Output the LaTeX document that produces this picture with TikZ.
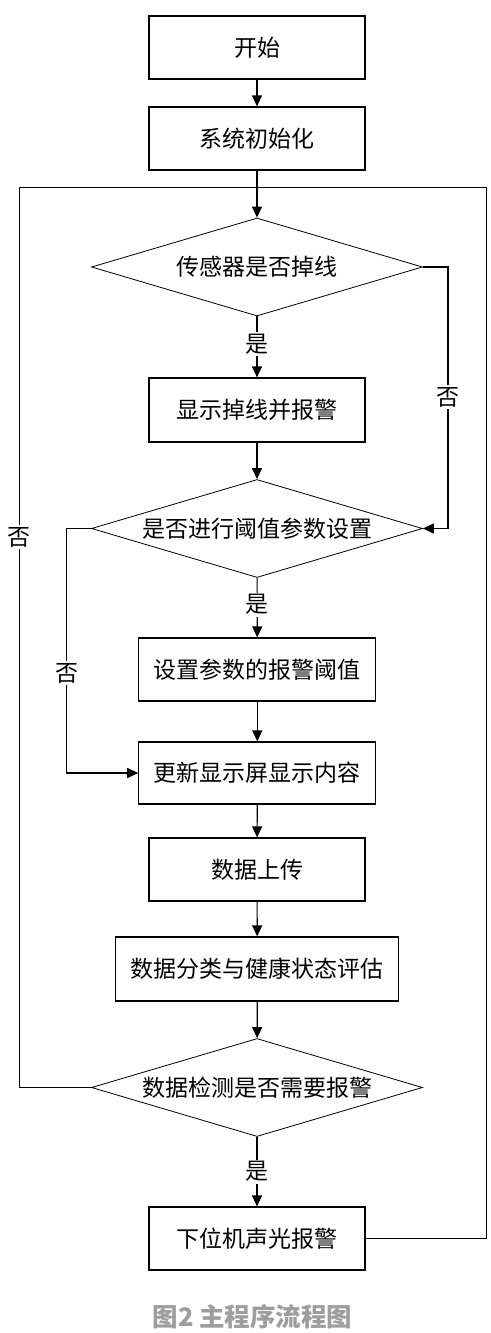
\documentclass[tikz,border=0pt]{standalone}
\usepackage{fontspec}
\newfontfamily\cjk{Noto Sans CJK SC}
\usetikzlibrary{shapes.geometric,arrows.meta}
\begin{document}
\begin{tikzpicture}[x=1pt,y=-1pt,
  txt/.style={font=\cjk\fontsize{23}{26}\selectfont},
  procbox/.style={draw,line width=1.2pt,rectangle,inner sep=0pt,txt},
  decide/.style={draw,line width=0.8pt,diamond,aspect=3.4,inner sep=0pt,minimum width=331pt,minimum height=98pt,txt},
  conn/.style={line width=1.2pt},
  arr/.style={conn,-{Triangle[length=11pt,width=10pt]}},
  lbl/.style={fill=white,inner sep=2pt,txt}]
\useasboundingbox (0,0) rectangle (490,1333);
\node[procbox,minimum width=216pt,minimum height=63pt] (start) at (257,47.5) {开始};
\node[procbox,minimum width=216pt,minimum height=63pt] (init) at (257,138.5) {系统初始化};
\node[decide] (d1) at (257,267) {传感器是否掉线};
\node[procbox,minimum width=216pt,minimum height=64pt] (disp) at (257,410) {显示掉线并报警};
\node[decide] (d2) at (257,528.5) {是否进行阈值参数设置};
\node[procbox,minimum width=237pt,minimum height=63pt] (set) at (257.3,669.5) {设置参数的报警阈值};
\node[procbox,minimum width=237pt,minimum height=62pt] (upd) at (257.3,773) {更新显示屏显示内容};
\node[procbox,minimum width=216pt,minimum height=63pt] (up) at (257,869.5) {数据上传};
\node[procbox,minimum width=283pt,minimum height=64pt] (cls) at (257.3,969) {数据分类与健康状态评估};
\node[decide] (d3) at (257,1087.5) {数据检测是否需要报警};
\node[procbox,minimum width=216pt,minimum height=63pt] (alarm) at (257,1238.5) {下位机声光报警};
\node[font=\cjk\bfseries\fontsize{25.5}{28}\selectfont,text=black!38] (cap) at (252.5,1317) {图2 主程序流程图};
\coordinate (tl) at (19.5,187.5);
\coordinate (tr) at (486.5,187.5);
\coordinate (j) at (257,187.5);
\coordinate (r1) at (448,267);
\coordinate (l2) at (66.5,528.5);
\draw[arr] (start) -- (init);
\draw[arr] (init) -- (d1);
\draw[conn] (d3.west) -| (tl) -- (j);
\draw[conn] (alarm.east) -| (tr) -- (j);
\draw[arr] (d1) -- node[lbl,pos=0.45]{是} (disp);
\draw[arr] (disp) -- (d2);
\draw[arr] (d1.east) -- (r1) |- (d2.east);
\node[lbl] (n1) at (448,397) {否};
\draw[arr] (d2) -- node[lbl,pos=0.45]{是} (set);
\draw[arr] (set) -- (upd);
\draw[arr] (d2.west) -- (l2) |- (upd.west);
\node[lbl] (n2) at (66.5,673) {否};
\node[lbl] (n3) at (19.5,537) {否};
\draw[arr] (upd) -- (up);
\draw[arr] (up) -- (cls);
\draw[arr] (cls) -- (d3);
\draw[arr] (d3) -- node[lbl,pos=0.5]{是} (alarm);
\end{tikzpicture}
\end{document}
